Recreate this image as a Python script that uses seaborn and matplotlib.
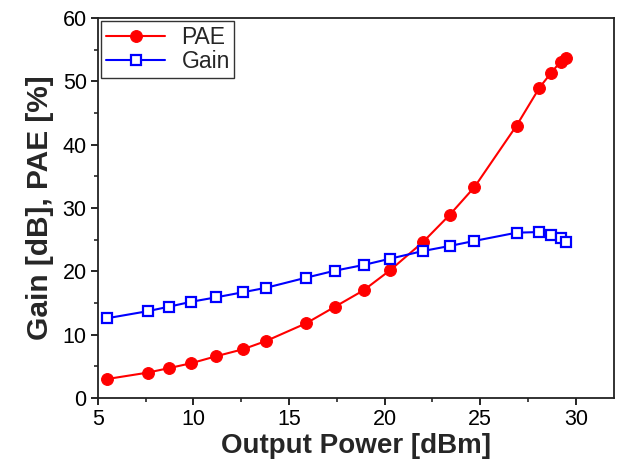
import numpy as np
import pandas as pd
import seaborn as sns
import matplotlib
matplotlib.use("Agg")
import matplotlib.pyplot as plt
from matplotlib.ticker import MultipleLocator

# Output power sweep [dBm]
pout = [5.5, 7.6, 8.7, 9.9, 11.2, 12.6, 13.8, 15.9, 17.4, 18.9, 20.3,
        22.0, 23.4, 24.7, 26.9, 28.1, 28.7, 29.2, 29.5]
pae = [3.0, 4.0, 4.7, 5.5, 6.6, 7.7, 9.0, 11.8, 14.4, 17.0, 20.2,
       24.6, 28.9, 33.3, 43.0, 49.0, 51.3, 53.1, 53.7]
gain = [12.6, 13.7, 14.4, 15.2, 15.9, 16.7, 17.4, 19.0, 20.1, 21.0, 22.0,
        23.2, 24.0, 24.8, 26.1, 26.2, 25.7, 25.3, 24.6]

df = pd.DataFrame({"pout": pout, "PAE": pae, "Gain": gain})

sns.set_style("ticks")
plt.rcParams['font.family'] = ['Liberation Sans', 'DejaVu Sans']

fig = plt.figure(figsize=(6.19, 4.68), dpi=100)
ax = fig.add_axes([0.158, 0.1496, 0.834, 0.812])

sns.lineplot(data=df, x="pout", y="PAE", ax=ax, sort=False, color="red",
             marker="o", markersize=8.5, markeredgecolor="red",
             linewidth=1.5, label="PAE")
sns.lineplot(data=df, x="pout", y="Gain", ax=ax, sort=False, color="blue",
             marker="s", markersize=6.5, markerfacecolor="white",
             markeredgecolor="blue", markeredgewidth=1.6,
             linewidth=1.5, label="Gain")

ax.set_xlim(5, 32)
ax.set_ylim(0, 60)
ax.xaxis.set_major_locator(MultipleLocator(5))
ax.xaxis.set_minor_locator(MultipleLocator(2.5))
ax.yaxis.set_major_locator(MultipleLocator(10))
ax.yaxis.set_minor_locator(MultipleLocator(5))
ax.tick_params(which="major", direction="out", length=5, width=1.2,
               labelsize=15.5, colors="black", top=False, right=False, pad=3)
ax.tick_params(which="minor", direction="out", length=3, width=1.2,
               top=False, right=False)
for s in ax.spines.values():
    s.set_linewidth(1.3)
    s.set_color("#222222")

ax.set_xlabel("Output Power [dBm]", fontsize=20, fontweight="bold", labelpad=2)
ax.set_ylabel("Gain [dB], PAE [%]", fontsize=21.5, fontweight="bold", labelpad=6)

leg = ax.legend(loc="upper left", fontsize=16.5, frameon=True, fancybox=False,
                borderaxespad=0.15, handlelength=2.6, borderpad=0.2,
                labelspacing=0.05, handletextpad=0.7)
leg.get_frame().set_edgecolor("black")
leg.get_frame().set_linewidth(1.0)

plt.savefig("out.png", dpi=100, facecolor="white")
